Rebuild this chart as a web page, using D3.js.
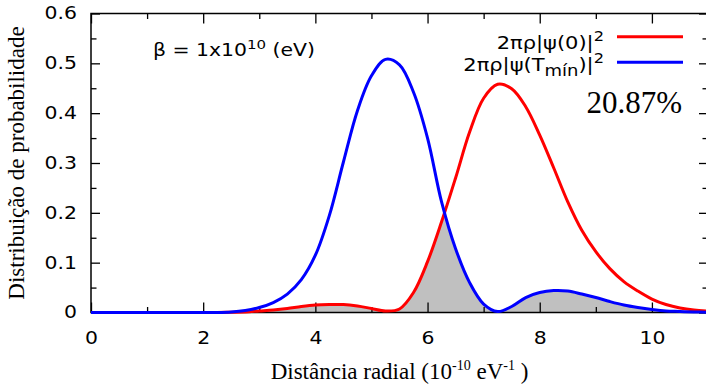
<!DOCTYPE html>
<html>
<head>
<meta charset="utf-8">
<script src="https://cdn.jsdelivr.net/npm/d3@7"></script>
<style>
  body { margin: 0; background: #fff; }
  svg { display: block; }
</style>
</head>
<body>
<svg width="706" height="385"></svg>
<script>
// radial distance samples (10^-10 eV^-1)
const radius = [0, 0.25, 0.5, 0.75, 1, 1.25, 1.5, 1.75, 2, 2.25, 2.5, 2.75, 3, 3.25, 3.5, 3.75,
  4, 4.25, 4.5, 4.75, 5, 5.25, 5.5, 5.75, 6, 6.25, 6.5, 6.75, 7, 7.25, 7.5, 7.75,
  8, 8.25, 8.5, 8.75, 9, 9.25, 9.5, 9.75, 10, 10.25, 10.5, 10.75, 11];

// 2πρ|ψ(0)|²  (red)
const psiZero = [0, 0, 0, 0, 0, 0, 0, 0, 0, 0, 0.0005, 0.001, 0.003, 0.005, 0.008, 0.012,
  0.015, 0.016, 0.016, 0.013, 0.008, 0.003, 0.007, 0.040, 0.102, 0.182, 0.270, 0.362, 0.430, 0.458, 0.449, 0.413,
  0.356, 0.290, 0.222, 0.165, 0.122, 0.088, 0.062, 0.043, 0.027, 0.016, 0.009, 0.005, 0.003];

// 2πρ|ψ(T_mín)|²  (blue)
const psiTmin = [0, 0, 0, 0, 0, 0, 0, 0, 0, 0, 0.001, 0.004, 0.010, 0.020, 0.037, 0.066,
  0.115, 0.195, 0.302, 0.405, 0.475, 0.508, 0.497, 0.442, 0.350, 0.222, 0.128, 0.060, 0.017, 0.002, 0.012, 0.030,
  0.040, 0.044, 0.043, 0.037, 0.030, 0.022, 0.015, 0.010, 0.006, 0.003, 0.002, 0.001, 0.0005];

const xMajor = [0, 2, 4, 6, 8, 10];
const xMinor = [1, 3, 5, 7, 9];
const yMajor = [0, 0.1, 0.2, 0.3, 0.4, 0.5, 0.6];
const yMinor = [0.05, 0.15, 0.25, 0.35, 0.45, 0.55];

const svg = d3.select('svg');

const mLeft = 91, mRight = 708, mTop = 13.5, mBottom = 312.5;
const stretch = 1.2; // sans text in the picture is drawn wider than it is tall

const x = d3.scaleLinear().domain([0, 11]).range([mLeft, mRight]);
const y = d3.scaleLinear().domain([0, 0.6]).range([mBottom, mTop]);

const rows = radius.map((r, i) => ({ r: r, a: psiZero[i], b: psiTmin[i] }));
const curve = d3.curveCatmullRom.alpha(0.5);

// overlap shading: area under red, clipped by area under blue
const areaA = d3.area().x(d => x(d.r)).y0(y(0)).y1(d => y(d.a)).curve(curve);
const areaB = d3.area().x(d => x(d.r)).y0(y(0)).y1(d => y(d.b)).curve(curve);

svg.append('clipPath').attr('id', 'underBlue')
  .append('path').attr('d', areaB(rows));
svg.append('clipPath').attr('id', 'plotArea')
  .append('rect').attr('x', mLeft).attr('y', mTop).attr('width', mRight - mLeft).attr('height', mBottom - mTop);

svg.append('g').attr('clip-path', 'url(#plotArea)')
  .append('path')
  .attr('d', areaA(rows))
  .attr('fill', '#c0c0c0')
  .attr('clip-path', 'url(#underBlue)');

// axes
function styleAxis(g) {
  g.select('.domain').remove();
  g.selectAll('line').attr('stroke', '#000').attr('stroke-width', 1.3);
  g.selectAll('text')
    .attr('font-family', 'DejaVu Sans').attr('font-size', 17).attr('fill', '#000')
    .each(function () {
      const t = d3.select(this);
      const tx = +t.attr('x') || 0, ty = +t.attr('y') || 0;
      t.attr('x', 0).attr('y', 0)
        .attr('transform', `translate(${tx},${ty}) scale(${stretch},1)`);
    });
}

svg.append('g').attr('transform', `translate(0,${mBottom})`)
  .call(d3.axisBottom(x).tickValues(xMajor).tickSize(-10).tickSizeOuter(0).tickPadding(19).tickFormat(d3.format('d')))
  .call(styleAxis);
svg.append('g').attr('transform', `translate(0,${mBottom})`)
  .call(d3.axisBottom(x).tickValues(xMinor).tickSize(-5.5).tickSizeOuter(0).tickFormat(''))
  .call(styleAxis);
svg.append('g').attr('transform', `translate(0,${mTop})`)
  .call(d3.axisTop(x).tickValues(xMajor).tickSize(-10).tickSizeOuter(0).tickFormat(''))
  .call(styleAxis);
svg.append('g').attr('transform', `translate(0,${mTop})`)
  .call(d3.axisTop(x).tickValues(xMinor).tickSize(-5.5).tickSizeOuter(0).tickFormat(''))
  .call(styleAxis);

svg.append('g').attr('transform', `translate(${mLeft},0)`)
  .call(d3.axisLeft(y).tickValues(yMajor).tickSize(-9).tickSizeOuter(0).tickPadding(14).tickFormat(d3.format('~g')))
  .call(styleAxis);
svg.append('g').attr('transform', `translate(${mLeft},0)`)
  .call(d3.axisLeft(y).tickValues(yMinor).tickSize(-5.5).tickSizeOuter(0).tickFormat(''))
  .call(styleAxis);
svg.append('g').attr('transform', `translate(${mRight},0)`)
  .call(d3.axisRight(y).tickValues(yMajor).tickSize(-9).tickSizeOuter(0).tickFormat(''))
  .call(styleAxis);
svg.append('g').attr('transform', `translate(${mRight},0)`)
  .call(d3.axisRight(y).tickValues(yMinor).tickSize(-5.5).tickSizeOuter(0).tickFormat(''))
  .call(styleAxis);

svg.append('rect')
  .attr('x', mLeft).attr('y', mTop)
  .attr('width', mRight - mLeft).attr('height', mBottom - mTop)
  .attr('fill', 'none').attr('stroke', '#000').attr('stroke-width', 1.5);

// curves
const lineA = d3.line().x(d => x(d.r)).y(d => y(d.a)).curve(curve);
const lineB = d3.line().x(d => x(d.r)).y(d => y(d.b)).curve(curve);

svg.append('path').attr('d', lineA(rows))
  .attr('fill', 'none').attr('stroke', '#ff0000').attr('stroke-width', 3);
svg.append('path').attr('d', lineB(rows))
  .attr('fill', 'none').attr('stroke', '#0000ff').attr('stroke-width', 3);

// axis titles
const xt = svg.append('text')
  .attr('x', (mLeft + mRight) / 2).attr('y', 379)
  .attr('text-anchor', 'middle')
  .attr('font-family', 'Liberation Serif').attr('font-size', 23).attr('fill', '#000');
xt.append('tspan').text('Distância radial (10');
xt.append('tspan').attr('dy', -9).attr('font-size', 14).text('-10');
xt.append('tspan').attr('dy', 9).text(' eV');
xt.append('tspan').attr('dy', -9).attr('font-size', 14).text('-1');
xt.append('tspan').attr('dy', 9).text(' )');

svg.append('text')
  .attr('transform', `translate(24,${(mTop + mBottom) / 2}) rotate(-90)`)
  .attr('text-anchor', 'middle')
  .attr('font-family', 'Liberation Serif').attr('font-size', 23).attr('fill', '#000')
  .text('Distribuição de probabilidade');

// beta annotation
const bt = svg.append('text')
  .attr('transform', `translate(153,55.5) scale(${stretch},1)`)
  .attr('font-family', 'DejaVu Sans').attr('font-size', 17).attr('fill', '#000');
bt.append('tspan').text('β = 1x10');
bt.append('tspan').attr('dy', -7).attr('font-size', 12.5).text('10');
bt.append('tspan').attr('dy', 7).text(' (eV)');

// legend
const legX1 = 617, legX2 = 683;
const l1 = svg.append('text')
  .attr('transform', `translate(604,48.5) scale(${stretch},1)`).attr('text-anchor', 'end')
  .attr('font-family', 'DejaVu Sans').attr('font-size', 17.5).attr('fill', '#000');
l1.append('tspan').text('2πρ|ψ(0)|');
l1.append('tspan').attr('dy', -8).attr('font-size', 13.5).text('2');
svg.append('line').attr('x1', legX1).attr('x2', legX2).attr('y1', 36.7).attr('y2', 36.7)
  .attr('stroke', '#ff0000').attr('stroke-width', 3);

const l2 = svg.append('text')
  .attr('transform', `translate(604,70.5) scale(${stretch},1)`).attr('text-anchor', 'end')
  .attr('font-family', 'DejaVu Sans').attr('font-size', 17.5).attr('fill', '#000');
l2.append('tspan').text('2πρ|ψ(T');
l2.append('tspan').attr('dy', 5).attr('font-size', 15).text('mín');
l2.append('tspan').attr('dy', -5).text(')|');
l2.append('tspan').attr('dy', -8).attr('font-size', 13.5).text('2');
svg.append('line').attr('x1', legX1).attr('x2', legX2).attr('y1', 62.3).attr('y2', 62.3)
  .attr('stroke', '#0000ff').attr('stroke-width', 3);

// overlap percentage
svg.append('text')
  .attr('x', 682).attr('y', 112.5).attr('text-anchor', 'end')
  .attr('font-family', 'Liberation Serif').attr('font-size', 31).attr('fill', '#000')
  .text('20.87%');
</script>
</body>
</html>
